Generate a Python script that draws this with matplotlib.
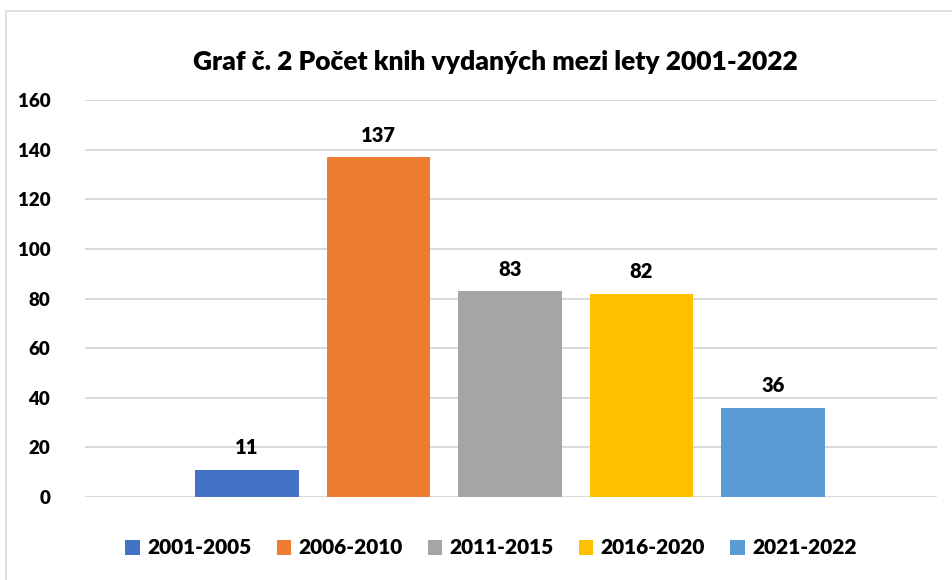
import matplotlib.pyplot as plt
from matplotlib.patches import Rectangle, Patch

periods = ['2001-2005', '2006-2010', '2011-2015', '2016-2020', '2021-2022']
counts = [11, 137, 83, 82, 36]
bar_colors = ['#4472C4', '#ED7D31', '#A5A5A5', '#FFC000', '#5B9BD5']
yticks = [0, 20, 40, 60, 80, 100, 120, 140, 160]

plt.rcParams['font.family'] = ['Lato', 'DejaVu Sans']
WT = 'heavy'

W, H = 953, 580
fig = plt.figure(figsize=(W / 100, H / 100), dpi=100)
ax = fig.add_axes([85 / W, 83 / H, (937 - 85) / W, (497 - 100) / H])

# chart border like an excel chart area
fig.patches.append(Rectangle((6 / W, -0.1), 1.2, (H - 11) / H + 0.1, transform=fig.transFigure,
                             fill=False, edgecolor='#d9d9d9', linewidth=1.2))

x = list(range(len(periods)))
bars = ax.bar(x, counts, width=0.79, color=bar_colors, zorder=3)
for xi, v in zip(x, counts):
    ax.text(xi, v + 5, str(v), ha='center', va='bottom', fontsize=14.5, fontweight=WT)

ax.set_xlim(-1.232, 5.247)
ax.set_ylim(0, 160)
ax.set_yticks(yticks)
ax.set_yticklabels([str(t) for t in yticks], fontsize=13.5, fontweight=WT)
ax.tick_params(axis='y', length=0, pad=25)
ax.set_xticks([])
ax.grid(axis='y', color='#d9d9d9', linewidth=1.4, zorder=0)
for s in ax.spines.values():
    s.set_visible(False)

fig.text(495 / W, 1 - 62 / H, 'Graf č. 2 Počet knih vydaných mezi lety 2001-2022',
         ha='center', va='center', fontsize=19, fontweight=WT)

handles = [Patch(facecolor=c, edgecolor='none') for c in bar_colors]
fig.legend(handles, periods, loc='center', bbox_to_anchor=(491 / W, 1 - 548 / H), ncol=5,
           frameon=False, handlelength=0.7, handleheight=0.7,
           handletextpad=0.35, columnspacing=1.2, prop={'weight': WT, 'size': 15})

fig.savefig('out.png', dpi=100)
